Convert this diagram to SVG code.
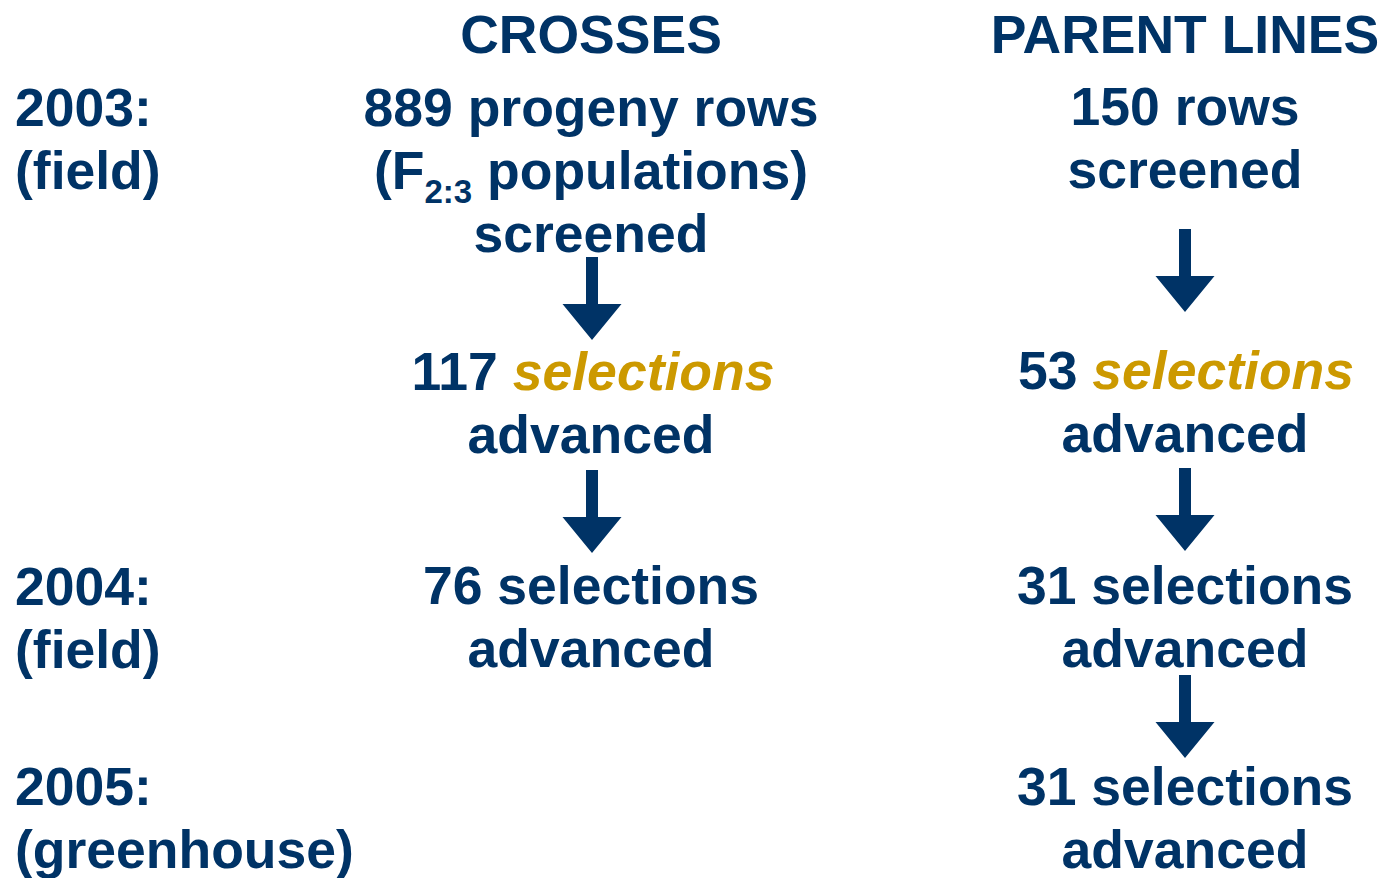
<svg xmlns="http://www.w3.org/2000/svg" xmlns:xlink="http://www.w3.org/1999/xlink" width="1383" height="878" viewBox="0 0 1383 878">
  <style>
    text { font-family: "Liberation Sans", Arial, sans-serif; font-weight: bold; font-size: 53.5px; fill: #003366; }
    .mid { text-anchor: middle; }
    .sel { fill: #CC9900; font-style: italic; }
    .sub { font-size: 33px; }
    .arrow { fill: #003366; }
  </style>
  <defs>
    <!-- block arrow, origin at top of shaft -->
    <path id="down" d="M-6,0 H6 V47 H29.5 L0,83 L-29.5,47 H-6 Z"/>
  </defs>
  <rect width="1383" height="878" fill="#ffffff"/>

  <!-- column headings -->
  <g id="head-crosses"><text class="mid" x="591" y="53">CROSSES</text></g>
  <g id="head-parents"><text class="mid" x="1185" y="53">PARENT LINES</text></g>

  <!-- year labels -->
  <g id="year-2003">
    <text x="15" y="126">2003:</text>
    <text x="15" y="189">(field)</text>
  </g>
  <g id="year-2004">
    <text x="15" y="605">2004:</text>
    <text x="15" y="668">(field)</text>
  </g>
  <g id="year-2005">
    <text x="15" y="805">2005:</text>
    <text x="15" y="868">(greenhouse)</text>
  </g>

  <!-- crosses column -->
  <g id="crosses-screened">
    <text class="mid" x="591" y="126">889 progeny rows</text>
    <text class="mid" x="591" y="189">(F<tspan class="sub" dy="14">2:3</tspan><tspan dy="-14"> populations)</tspan></text>
    <text class="mid" x="591" y="252">screened</text>
  </g>
  <g id="crosses-selected">
    <text class="mid" x="593" y="390">117 <tspan class="sel">selections</tspan></text>
    <text class="mid" x="591" y="453">advanced</text>
  </g>
  <g id="crosses-2004">
    <text class="mid" x="591" y="604">76 selections</text>
    <text class="mid" x="591" y="667">advanced</text>
  </g>

  <!-- parent lines column -->
  <g id="parents-screened">
    <text class="mid" x="1185" y="125">150 rows</text>
    <text class="mid" x="1185" y="188">screened</text>
  </g>
  <g id="parents-selected">
    <text class="mid" x="1186" y="389">53 <tspan class="sel">selections</tspan></text>
    <text class="mid" x="1185" y="452">advanced</text>
  </g>
  <g id="parents-2004">
    <text class="mid" x="1185" y="604">31 selections</text>
    <text class="mid" x="1185" y="667">advanced</text>
  </g>
  <g id="parents-2005">
    <text class="mid" x="1185" y="805">31 selections</text>
    <text class="mid" x="1185" y="868">advanced</text>
  </g>

  <!-- connectors -->
  <g id="connectors" class="arrow">
    <use xlink:href="#down" href="#down" x="592" y="257"/>
    <use xlink:href="#down" href="#down" x="592" y="470"/>
    <use xlink:href="#down" href="#down" x="1185" y="229"/>
    <use xlink:href="#down" href="#down" x="1185" y="468"/>
    <use xlink:href="#down" href="#down" x="1185" y="675"/>
  </g>
</svg>
